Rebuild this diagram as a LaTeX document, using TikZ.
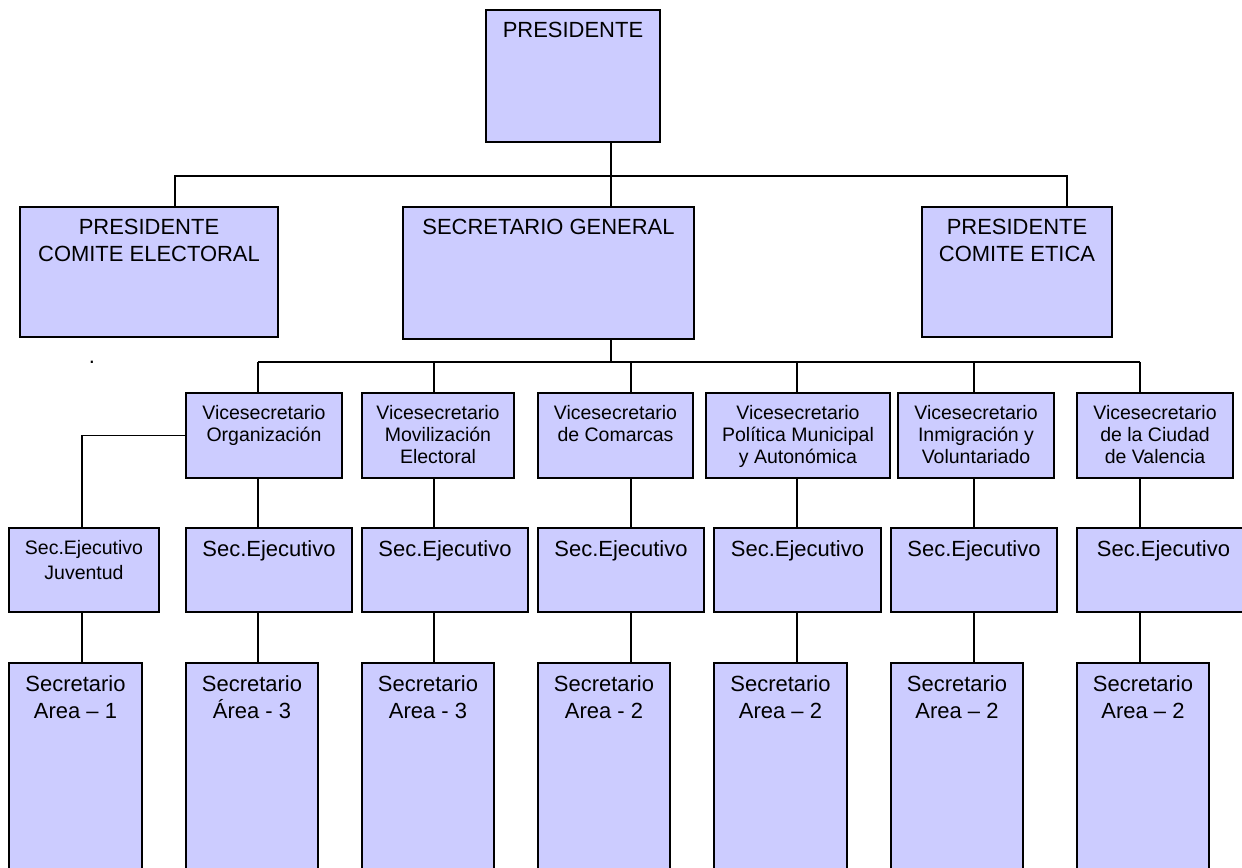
\documentclass[tikz,border=0pt]{standalone}
\usepackage{fontspec}
\setmainfont{Liberation Sans}
\usetikzlibrary{fit}
\definecolor{boxblue}{RGB}{204,204,255}

\begin{document}
\begin{tikzpicture}[x=0.02cm, y=-0.02cm,
  cargo/.style={draw=black, fill=boxblue, line width=0.9pt, inner sep=0pt},
  rotulo/.style={anchor=north, inner sep=0pt, yshift=-0.26cm, align=center, font=\fontsize{12.5}{15.2}\selectfont},
  rotulovice/.style={rotulo, font=\fontsize{11.1}{12.5}\selectfont},
  rotulojuv/.style={rotulo, font=\fontsize{11.1}{14.2}\selectfont},
  linea/.style={line width=0.7pt}]
\useasboundingbox (0,0) rectangle (1242,868);
\clip (0,0) rectangle (1242,868);

\node[cargo, fit={(486,10) (660,142)}, label={[rotulo]north:PRESIDENTE}] (pres) {};
\node[cargo, fit={(20,207) (278,337)}, label={[rotulo]north:{PRESIDENTE\\COMITE ELECTORAL}}] (pce) {};
\node[cargo, fit={(403,207) (694,339)}, label={[rotulo]north:SECRETARIO GENERAL}] (sg) {};
\node[cargo, fit={(922,207) (1112,337)}, label={[rotulo]north:{PRESIDENTE\\COMITE ETICA}}] (pcet) {};

\foreach \n/\xa/\xb/\txt in {1/186/342/{Vicesecretario\\Organización},
  2/362/514/{Vicesecretario\\Movilización\\Electoral},
  3/538/693/{Vicesecretario\\de Comarcas},
  4/706/890/{Vicesecretario\\Política Municipal\\y Autonómica},
  5/898/1054/{Vicesecretario\\Inmigración y\\Voluntariado},
  6/1077/1233/{Vicesecretario\\de la Ciudad\\de Valencia}}{
  \node[cargo, fit={(\xa,393) (\xb,478)}, label={[rotulovice]north:{\txt}}] (v\n) {};
}

\node[cargo, fit={(9,528) (159,612)}, label={[rotulojuv]north:{Sec.Ejecutivo\\Juventud}}] (sj) {};
\foreach \n/\xa/\xb in {1/186/352, 2/362/528, 3/538/704, 4/714/881, 5/891/1057, 6/1077/1250}{
  \node[cargo, fit={(\xa,528) (\xb,612)}, label={[rotulo]north:Sec.Ejecutivo}] (s\n) {};
}

\foreach \n/\xa/\xb/\txt in {0/9/142/{Secretario\\Area – 1},
  1/186/318/{Secretario\\Área - 3},
  2/362/494/{Secretario\\Area - 3},
  3/538/670/{Secretario\\Area - 2},
  4/714/847/{Secretario\\Area – 2},
  5/891/1023/{Secretario\\Area – 2},
  6/1077/1209/{Secretario\\Area – 2}}{
  \node[cargo, fit={(\xa,663) (\xb,880)}, label={[rotulo]north:{\txt}}] (a\n) {};
}

\node[anchor=base, inner sep=0pt, font=\fontsize{12.5}{15}\selectfont] (punto) at (92,364) {.};

% lines
\coordinate (tronco) at (611,0);
\coordinate (izq) at (175,0);
\coordinate (der) at (1067,0);
\coordinate (b2) at (0,176);
\coordinate (b3) at (0,362);
\coordinate (cj) at (82,0);
\foreach \n/\cx in {1/258, 2/434, 3/631, 4/797, 5/974, 6/1140}
  \coordinate (c\n) at (\cx,0);

\draw[linea] (tronco |- pres.south) -- (tronco |- sg.north);
\draw[linea] (izq |- pce.north) -- (izq |- b2) -- (der |- b2) -- (der |- pcet.north);
\draw[linea] (tronco |- sg.south) -- (tronco |- b3);
\draw[linea] (c1 |- b3) -- (c6 |- b3);
\foreach \i in {1,...,6}{
  \draw[linea] (c\i |- b3) -- (c\i |- v\i.north);
  \draw[linea] (c\i |- v\i.south) -- (c\i |- s\i.north);
  \draw[linea] (c\i |- s\i.south) -- (c\i |- a\i.north);
}
\draw[linea] (v1.west) -- (cj |- v1.west) -- (cj |- sj.north);
\draw[linea] (cj |- sj.south) -- (cj |- a0.north);
\end{tikzpicture}
\end{document}
